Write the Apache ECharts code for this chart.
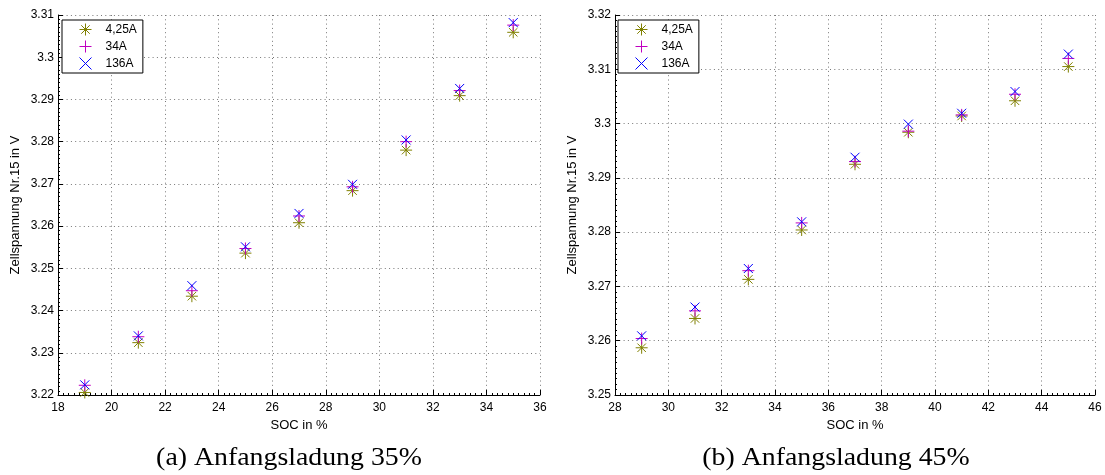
<!DOCTYPE html>
<html>
<head>
<meta charset="utf-8">
<script src="https://cdn.jsdelivr.net/npm/echarts@6/dist/echarts.min.js"></script>
<style>
  html, body { margin: 0; padding: 0; background: #ffffff; }
  #chart { width: 1105px; height: 475px; }
</style>
</head>
<body>
<div id="chart"></div>
<script>
// ---- data ----
const seriesNames = ['4,25A', '34A', '136A'];

const socA = [19, 21, 23, 25, 27, 29, 31, 33, 35];
const uA_425 = [3.2206, 3.2324, 3.2434, 3.2536, 3.2608, 3.2684, 3.2780, 3.2909, 3.3059];
const uA_34  = [3.2223, 3.2338, 3.2447, 3.2547, 3.2624, 3.2693, 3.2800, 3.2921, 3.3076];
const uA_136 = [3.2224, 3.2340, 3.2459, 3.2551, 3.2630, 3.2699, 3.2804, 3.2926, 3.3082];

const socB = [29, 31, 33, 35, 37, 39, 41, 43, 45];
const uB_425 = [3.2587, 3.2641, 3.2713, 3.2804, 3.2925, 3.2984, 3.3014, 3.3042, 3.3105];
const uB_34  = [3.2604, 3.2655, 3.2729, 3.2817, 3.2930, 3.2986, 3.3016, 3.3054, 3.3120];
const uB_136 = [3.2609, 3.2662, 3.2733, 3.2819, 3.2938, 3.2999, 3.3019, 3.3059, 3.3128];

const xAxisTitle = 'SOC in %';
const yAxisTitle = 'Zellspannung Nr.15 in V';
const captionA = '(a) Anfangsladung 35%';
const captionB = '(b) Anfangsladung 45%';

// ---- styles ----
const colors = ['#808000', '#c000c0', '#0000ff'];
const symbols = [
  'path://M0 5L10 5M5 0L5 10M1.46 1.46L8.54 8.54M1.46 8.54L8.54 1.46',
  'path://M0 5L10 5M5 0L5 10',
  'path://M0 0L10 10M0 10L10 0'
];
const symbolSizes = [12, 12, 9];
const tickFont = { fontFamily: 'Liberation Sans, Arial, sans-serif', fontSize: 12, color: '#000' };

function zip(xs, ys) { return xs.map((x, i) => [x, ys[i]]); }

function xAxisCfg(gridIndex, min, max) {
  return {
    type: 'value', gridIndex, min, max, interval: 2,
    name: xAxisTitle, nameLocation: 'middle', nameGap: 19,
    nameTextStyle: { fontFamily: 'Liberation Sans, Arial, sans-serif', fontSize: 13, color: '#000' },
    axisLine: { show: true, onZero: false, lineStyle: { color: '#000', width: 1 } },
    axisTick: { show: true, inside: true, length: 5, lineStyle: { color: '#000' } },
    minorTick: { show: true, splitNumber: 10, length: 2, lineStyle: { color: '#000' } },
    axisLabel: Object.assign({ margin: 7, showMinLabel: true, showMaxLabel: true, hideOverlap: false }, tickFont),
    splitLine: { show: true, lineStyle: { color: '#777', type: [1, 3.3], width: 1 } }
  };
}
function yAxisCfg(gridIndex, min, max) {
  return {
    type: 'value', gridIndex, min, max, interval: 0.01,
    name: yAxisTitle, nameLocation: 'middle', nameGap: 36,
    nameTextStyle: { fontFamily: 'Liberation Sans, Arial, sans-serif', fontSize: 13, color: '#000' },
    axisLine: { show: true, onZero: false, lineStyle: { color: '#000', width: 1 } },
    axisTick: { show: true, inside: true, length: 5, lineStyle: { color: '#000' } },
    minorTick: { show: true, splitNumber: 10, length: 2, lineStyle: { color: '#000' } },
    axisLabel: Object.assign({
      margin: 4, showMinLabel: true, showMaxLabel: true, hideOverlap: false,
      formatter: v => String(parseFloat(Number(v).toFixed(3)))
    }, tickFont),
    splitLine: { show: true, lineStyle: { color: '#777', type: [1, 3.3], width: 1 } }
  };
}
function scatter(nameIdx, gridIdx, xs, ys) {
  return {
    type: 'scatter', name: seriesNames[nameIdx],
    xAxisIndex: gridIdx, yAxisIndex: gridIdx,
    data: zip(xs, ys),
    symbol: symbols[nameIdx], symbolSize: symbolSizes[nameIdx], symbolKeepAspect: true,
    itemStyle: { color: 'rgba(0,0,0,0)', borderColor: colors[nameIdx], borderWidth: 1, opacity: 1 },
    emphasis: { disabled: true },
    animation: false, z: 3 + nameIdx
  };
}
function legendCfg(left) {
  return {
    show: true, orient: 'vertical', left, top: 20,
    data: seriesNames, selectedMode: false,
    itemWidth: 12, itemHeight: 12, itemGap: 4,
    padding: [3, 6, 3, 17],
    itemStyle: { borderWidth: 1 },
    backgroundColor: '#fff', borderColor: '#000', borderWidth: 1, borderRadius: 0,
    textStyle: { fontFamily: 'Liberation Sans, Arial, sans-serif', fontSize: 12, color: '#000', padding: [0, 0, 0, 9] },
    z: 10
  };
}

const chart = echarts.init(document.getElementById('chart'), null, { renderer: 'canvas' });
chart.setOption({
  animation: false,
  backgroundColor: '#ffffff',
  grid: [
    { left: 58, top: 15, width: 482, height: 380, outerBoundsMode: 'none', containLabel: false },
    { left: 615, top: 15, width: 480, height: 380, outerBoundsMode: 'none', containLabel: false }
  ],
  xAxis: [xAxisCfg(0, 18, 36), xAxisCfg(1, 28, 46)],
  yAxis: [yAxisCfg(0, 3.22, 3.31), yAxisCfg(1, 3.25, 3.32)],
  legend: [legendCfg(62), legendCfg(618)],
  series: [
    scatter(0, 0, socA, uA_425),
    scatter(1, 0, socA, uA_34),
    scatter(2, 0, socA, uA_136),
    scatter(0, 1, socB, uB_425),
    scatter(1, 1, socB, uB_34),
    scatter(2, 1, socB, uB_136)
  ],
  graphic: [
    { type: 'text', x: 289, y: 458, scaleX: 1.07, style: { text: captionA, font: '26px "Liberation Serif", "Times New Roman", serif', fill: '#000', textAlign: 'center', textVerticalAlign: 'middle' } },
    { type: 'text', x: 836, y: 458, scaleX: 1.07, style: { text: captionB, font: '26px "Liberation Serif", "Times New Roman", serif', fill: '#000', textAlign: 'center', textVerticalAlign: 'middle' } }
  ]
});
</script>
</body>
</html>
